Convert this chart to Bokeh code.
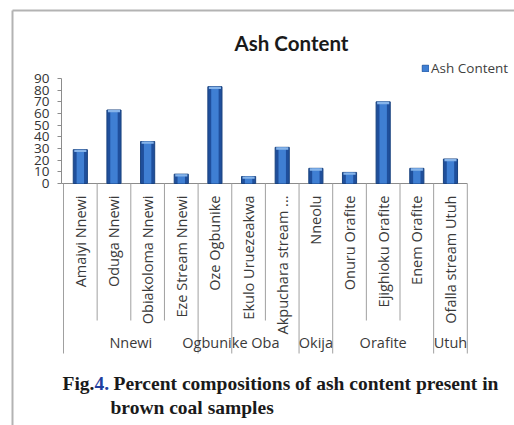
import math
from bokeh.plotting import figure
from bokeh.models import Range1d, FixedTicker, Label, Legend, LegendItem, LinearAxis
from bokeh.core.properties import value
from bokeh.embed import file_html
from bokeh.resources import INLINE

# ---------------- data ----------------
samples = ["Amaiyi Nnewi", "Oduga Nnewi", "Obiakoloma Nnewi", "Eze Stream Nnewi",
           "Oze Ogbunike", "Ekulo Uruezeakwa", "Akpuchara stream ...", "Nneolu",
           "Onuru Orafite", "Ejighioku Orafite", "Enem Orafite", "Ofalla stream Utuh"]
ash_content = [29, 63, 36, 8, 83, 6, 31, 13, 9.5, 70, 13, 21]
groups = ["Nnewi", "Ogbunike", "Oba", "Okija", "Orafite", "Utuh"]
group_sizes = [4, 1, 2, 1, 3, 1]
y_ticks = [0, 10, 20, 30, 40, 50, 60, 70, 80, 90]
chart_title = "Ash Content"
series_name = "Ash Content"
caption_fig = "Fig."
caption_num = "4."
caption_line1 = "Percent  compositions  of ash content present in"
caption_line2 = "brown  coal samples"

# ---------------- layout helpers (pixels -> data) ----------------
W, H = 514, 425
LEFT = 63          # px column of the first category boundary
CW = 33.65         # px per category
Y0 = 183           # px row of value 0
PXU = 105 / 90     # px per value unit


def X(px):
    return (px - LEFT) / CW


def Y(py):
    return (Y0 - py) / PXU


p = figure(width=W, height=H, output_backend="svg", toolbar_location=None,
           x_range=Range1d(X(0), X(W)), y_range=Range1d(Y(H), Y(0)),
           x_axis_location=None, y_axis_location=None,
           min_border_left=0, min_border_right=0, min_border_top=0, min_border_bottom=0,
           outline_line_color=None, background_fill_color="white", border_fill_color="white")
p.xgrid.visible = False
p.ygrid.visible = False

ax = LinearAxis(fixed_location=X(61), ticker=FixedTicker(ticks=y_ticks),
                bounds=(min(y_ticks), max(y_ticks)))
ax.axis_line_color = "#8c8c8c"
ax.major_tick_line_color = "#8c8c8c"
ax.major_tick_out = 4
ax.major_tick_in = 0
ax.minor_tick_line_color = None
ax.major_label_standoff = 8
ax.major_label_text_font = "Open Sans"
ax.major_label_text_font_size = "13.5px"
ax.major_label_text_color = "#333333"
p.add_layout(ax, "left")

n = len(samples)
xs = [i + 0.5 for i in range(n)]

# outer chart-area border (left and top)
p.segment(x0=[X(12), X(12)], y0=[Y(10), Y(10)], x1=[X(W + 5), X(12)], y1=[Y(10), Y(H + 5)],
          line_color="#b3b3b3", line_width=2)

# baseline
p.segment(x0=[X(61)], y0=[0], x1=[n], y1=[0], line_color="#8c8c8c", line_width=1)

# separators between categories / groups
long_bounds = [0]
for s in group_sizes:
    long_bounds.append(long_bounds[-1] + s)
short_bounds = [b for b in range(n + 1) if b not in long_bounds]
p.segment(x0=short_bounds, y0=[0] * len(short_bounds), x1=short_bounds,
          y1=[Y(320)] * len(short_bounds), line_color="#a0a0a0", line_width=1)
p.segment(x0=long_bounds, y0=[0] * len(long_bounds), x1=long_bounds,
          y1=[Y(353)] * len(long_bounds), line_color="#a0a0a0", line_width=1)

# bars (cylinder-like shading)
r_outer = p.vbar(x=xs, top=ash_content, bottom=0, width=0.42,
                 fill_color="#1f4f9c", line_color="#1a437f", line_width=1)
r_inner = p.vbar(x=xs, top=ash_content, bottom=0, width=0.22,
                 fill_color="#3f7fd3", line_color=None)
p.rect(x=xs, y=[v - 1.0 for v in ash_content], width=0.36, height=2.0,
       fill_color="#86b4ea", line_color=None)

# category labels (rotated)
p.text(x=xs, y=[Y(195)] * n, text=samples, angle=math.pi / 2,
       text_align="right", text_baseline="middle",
       text_font=value("Open Sans"), text_font_size="14.5px", text_color="#3a3a3a")

# group labels
gcenters = [(long_bounds[i] + long_bounds[i + 1]) / 2 for i in range(len(groups))]
p.text(x=gcenters, y=[Y(342)] * len(groups), text=groups,
       text_align="center", text_baseline="middle",
       text_font=value("Open Sans"), text_font_size="14.5px", text_color="#3a3a3a")

# title
p.add_layout(Label(x=X(291), y=Y(42), text=chart_title, text_align="center",
                   text_baseline="middle", text_font="Lato", text_font_style="bold",
                   text_font_size="20.5px", text_color="#1a1a1a"))

# legend
legend = Legend(items=[LegendItem(label=series_name, renderers=[r_outer, r_inner])],
                location=(421, H - 77), orientation="vertical",
                glyph_width=8, glyph_height=8, label_standoff=2, padding=0, margin=0,
                spacing=0, border_line_color=None, background_fill_alpha=0,
                label_text_font="Open Sans", label_text_font_size="13.5px",
                label_text_color="#404040", label_height=10)
p.add_layout(legend)

# caption
cap_kw = dict(text_font="Liberation Serif", text_font_style="bold",
              text_font_size="19.5px", text_baseline="middle", text_align="left")
p.add_layout(Label(x=X(62), y=Y(383), text=caption_fig, text_color="#1a1a1a", **cap_kw))
p.add_layout(Label(x=X(94), y=Y(383), text=caption_num, text_color="#1f3fa0", **cap_kw))
p.add_layout(Label(x=X(113), y=Y(383), text=caption_line1, text_color="#1a1a1a", **cap_kw))
p.add_layout(Label(x=X(110), y=Y(407), text=caption_line2, text_color="#1a1a1a", **cap_kw))

open("out.html", "w").write(file_html(p, INLINE))
